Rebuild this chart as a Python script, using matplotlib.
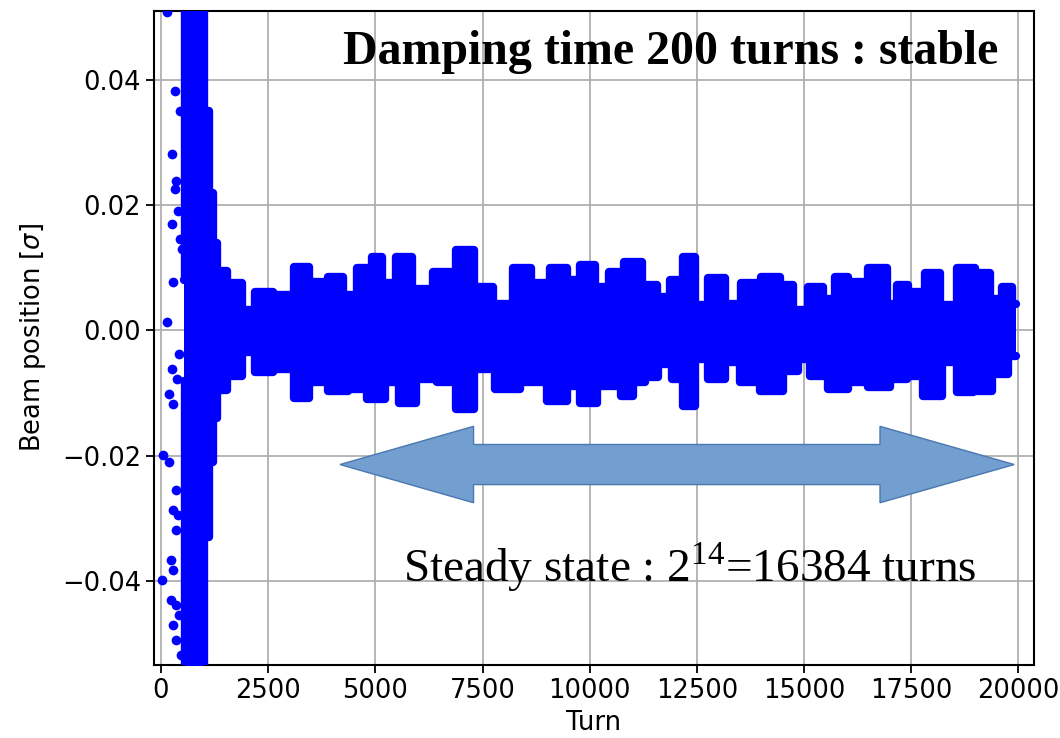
import matplotlib
matplotlib.use("Agg")
import matplotlib.pyplot as plt
from matplotlib.patches import Polygon
import numpy as np

# ---------------- data ----------------
# upper envelope of the dense cloud (turn, beam position [sigma])
up_turn = [540, 600, 760, 940, 1060, 1160, 1260, 1376, 1687, 2076, 2309, 2931, 3281,
           3631, 4175, 4331, 4797, 5031, 5264, 5691, 6041, 6663, 7090, 7518,
           7984, 8413, 8840, 9306, 9617, 9928, 10317, 10589, 11016, 11405,
           11716, 12027, 12338, 12571, 12960, 13348, 13698, 14281, 14593,
           14904, 15293, 15603, 15837, 16226, 16770, 17081, 17236, 17625,
           18013, 18325, 18791, 19180, 19491, 19762, 19942]
up_val = [0.008, 0.060, 0.060, 0.060, 0.035, 0.022, 0.014, 0.0095, 0.0075, 0.0032, 0.0062, 0.0056, 0.0102,
          0.0078, 0.0086, 0.0056, 0.0099, 0.0118, 0.0075, 0.0118, 0.0067, 0.0094, 0.0128, 0.0070,
          0.0043, 0.0099, 0.0075, 0.0099, 0.0081, 0.0104, 0.0070, 0.0094, 0.0110, 0.0072,
          0.0054, 0.0080, 0.0118, 0.0041, 0.0083, 0.0043, 0.0075, 0.0086, 0.0072,
          0.0032, 0.0070, 0.0051, 0.0086, 0.0078, 0.0099, 0.0043, 0.0072, 0.0062,
          0.0091, 0.0041, 0.0099, 0.0091, 0.0051, 0.0070, 0.0043]

# lower envelope of the dense cloud
lo_turn = [540, 600, 760, 940, 1060, 1160, 1260, 1376, 1687, 2076, 2309, 2931, 3281,
           3631, 4175, 4564, 5031, 5419, 5691, 6197, 6663, 7090, 7518, 8063,
           8685, 9306, 9617, 9928, 10395, 10589, 10861, 11172, 11405, 11794,
           12027, 12338, 12571, 12960, 13348, 13659, 14281, 14748, 14981,
           15293, 15837, 16226, 16770, 17236, 17547, 18013, 18402, 18713,
           19180, 19569, 19942]
lo_val = [-0.008, -0.060, -0.060, -0.060, -0.033, -0.021, -0.014, -0.0095, -0.0072, -0.0035, -0.0067, -0.0062, -0.0107,
          -0.0083, -0.0096, -0.0094, -0.0110, -0.0083, -0.0115, -0.0077, -0.0083, -0.0125, -0.0062, -0.0094,
          -0.0083, -0.0112, -0.0088, -0.0115, -0.0088, -0.0088, -0.0104, -0.0083, -0.0075, -0.0053,
          -0.0077, -0.0120, -0.0045, -0.0077, -0.0051, -0.0083, -0.0096, -0.0064, -0.0045,
          -0.0072, -0.0094, -0.0083, -0.0091, -0.0077, -0.0072, -0.0104, -0.0051, -0.0099,
          -0.0096, -0.0069, -0.0040]

# isolated points of the damped transient
pt_turn = [140, 606, 327, 443, 257, 350, 327, 397, 257, 443, 490, 280, 140, 420, 257,
           373, 187, 280, 47, 187, 350, 280, 397, 350, 233, 280, 23, 233, 350,
           420, 280, 350, 466]
pt_val = [0.0509, 0.0510, 0.0382, 0.0350, 0.0282, 0.0238, 0.0226, 0.0190, 0.0170,
          0.0146, 0.0130, 0.0077, 0.0013, -0.0038, -0.0062, -0.0078, -0.0102,
          -0.0117, -0.0198, -0.0210, -0.0254, -0.0286, -0.0294, -0.0318, -0.0366,
          -0.0382, -0.0398, -0.0430, -0.0438, -0.0454, -0.0470, -0.0494, -0.0518]

x_ticks = [0, 2500, 5000, 7500, 10000, 12500, 15000, 17500, 20000]
y_ticks = [-0.04, -0.02, 0.00, 0.02, 0.04]

# ---------------- figure ----------------
W, H = 1060, 738
fig = plt.figure(figsize=(W / 100, H / 100), dpi=100)
ax = fig.add_axes([154.3 / W, 1 - 665 / H, (1033.5 - 154.3) / W, (665 - 11) / H])

blue = "#0000ff"
ax.fill_between(up_turn, 0, up_val, step="mid", color=blue, lw=0, zorder=3)
ax.fill_between(lo_turn, lo_val, 0, step="mid", color=blue, lw=0, zorder=3)
# rounded rim of the point cloud (dot radius)
for t, v in ((up_turn, up_val), (lo_turn, lo_val)):
    ax.plot(t, v, drawstyle="steps-mid", color=blue, lw=6,
            solid_joinstyle="round", solid_capstyle="round", zorder=3)
ax.plot(pt_turn, pt_val, "o", color=blue, ms=7, mew=0, zorder=3)

ax.set_xlim(-156, 20350)
ax.set_ylim(-0.0534, 0.0510)
ax.set_xticks(x_ticks)
ax.set_yticks(y_ticks)
ax.set_yticklabels(["\u22120.04", "\u22120.02", "0.00", "0.02", "0.04"])
ax.tick_params(labelsize=18.5, length=6, width=1.3)
ax.grid(True, color="#b0b0b0", lw=1.3)
ax.set_axisbelow(True)
for s in ax.spines.values():
    s.set_linewidth(1.5)

ax.set_xlabel("Turn", fontsize=18.5, labelpad=4)
ax.set_ylabel(r"Beam position [$\sigma$]", fontsize=18.5, labelpad=10)

# double-headed block arrow (annotation)
yc, hs, hh = -0.0214, 0.0032, 0.0061
x0, xb1, xb2, x1 = 4175, 7290, 16770, 19900
arrow = Polygon([(x0, yc), (xb1, yc + hh), (xb1, yc + hs), (xb2, yc + hs), (xb2, yc + hh),
                 (x1, yc), (xb2, yc - hh), (xb2, yc - hs), (xb1, yc - hs), (xb1, yc - hh)],
                closed=True, facecolor="#729fcf", edgecolor="#4a78b0", lw=1, zorder=5)
ax.add_patch(arrow)

fig.text(670.5 / W, 1 - 52 / H, "Damping time 200 turns : stable",
         family="Liberation Serif", weight="bold", fontsize=34.5,
         ha="center", va="center")
fig.text(690 / W, 1 - 582 / H, r"Steady state : 2$^{\mathregular{14}}$=16384 turns",
         family="Liberation Serif", fontsize=34, ha="center", va="baseline")

fig.savefig("out.png", dpi=100)
